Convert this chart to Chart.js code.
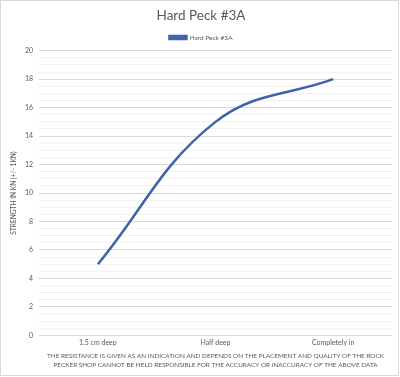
<!DOCTYPE html>
<html><head><meta charset="utf-8">
<script src="https://cdn.jsdelivr.net/npm/chart.js@4"></script>
<style>html,body{margin:0;padding:0;background:#fff}#c{display:block}</style>
</head><body>
<canvas id="c" width="400" height="377"></canvas>
<script>
const categories = ["1.5 cm deep", "Half deep", "Completely in"];
const seriesName = "Hard Peck #3A";
const values = [5, 15, 18];
const yMin = 0, yMax = 20, yLabelStep = 2, yMinorStep = 0.5;
const yTitle = "STRENGTH IN KN (+/- 1KN)";
const footer = ["THE RESISTANCE IS GIVEN AS AN INDICATION AND DEPENDS ON THE PLACEMENT AND QUALITY OF THE ROCK",
                "PECKER SHOP CANNOT BE HELD RESPONSIBLE FOR THE ACCURACY OR INACCURACY OF THE ABOVE DATA"];

const FONT = "Lato, 'Open Sans', sans-serif";
const borderPlugin = {
  id: 'border',
  afterDraw(chart) {
    const ctx = chart.ctx;
    ctx.save();
    ctx.strokeStyle = '#d9d9d9';
    ctx.lineWidth = 1;
    ctx.strokeRect(0.5, 0.5, 398, 375);
    ctx.restore();
  }
};
new Chart(document.getElementById('c'), {
  type: 'line',
  data: {
    labels: categories,
    datasets: [{
      label: seriesName,
      data: values,
      borderColor: '#4062ad',
      backgroundColor: '#4062ad',
      borderWidth: 2.5,
      tension: 0.4,
      pointRadius: 0,
      fill: false
    }]
  },
  options: {
    responsive: false,
    animation: false,
    layout: { padding: { left: 10, right: 8, top: 5, bottom: 7 } },
    plugins: {
      title: {
        display: true, text: seriesName, color: '#595959',
        font: { family: FONT, size: 13.5, weight: 'normal' },
        padding: { top: 3, bottom: 4 }
      },
      legend: {
        display: true,
        labels: {
          boxWidth: 17, boxHeight: 3,
          color: '#595959', font: { family: FONT, size: 6.5 }, padding: 6
        }
      },
      tooltip: { enabled: false }
    },
    scales: {
      x: {
        offset: true,
        grid: { display: false, drawTicks: false },
        border: { display: false },
        ticks: { color: '#595959', font: { family: FONT, size: 7 }, padding: 3, maxRotation: 0 },
        title: {
          display: true, text: footer, color: '#595959',
          font: { family: FONT, size: 6.4, lineHeight: 1.5 }, padding: { top: 1, bottom: 0 }
        }
      },
      y: {
        min: yMin, max: yMax,
        border: { display: false },
        grid: {
          drawTicks: false,
          color: (c) => (c.tick && Math.abs(c.tick.value % yLabelStep) < 1e-9) ? '#d9d9d9' : '#f2f2f2',
          lineWidth: 1
        },
        ticks: {
          stepSize: yMinorStep, autoSkip: false,
          color: '#595959', font: { family: FONT, size: 7 }, padding: 6,
          callback: (v) => (Math.abs(v % yLabelStep) < 1e-9) ? String(v) : ''
        },
        title: {
          display: true, text: yTitle, color: '#595959',
          font: { family: FONT, size: 6.6 }, padding: { top: 0, bottom: 1 }
        }
      }
    }
  },
  plugins: [borderPlugin]
});
</script>
</body></html>
